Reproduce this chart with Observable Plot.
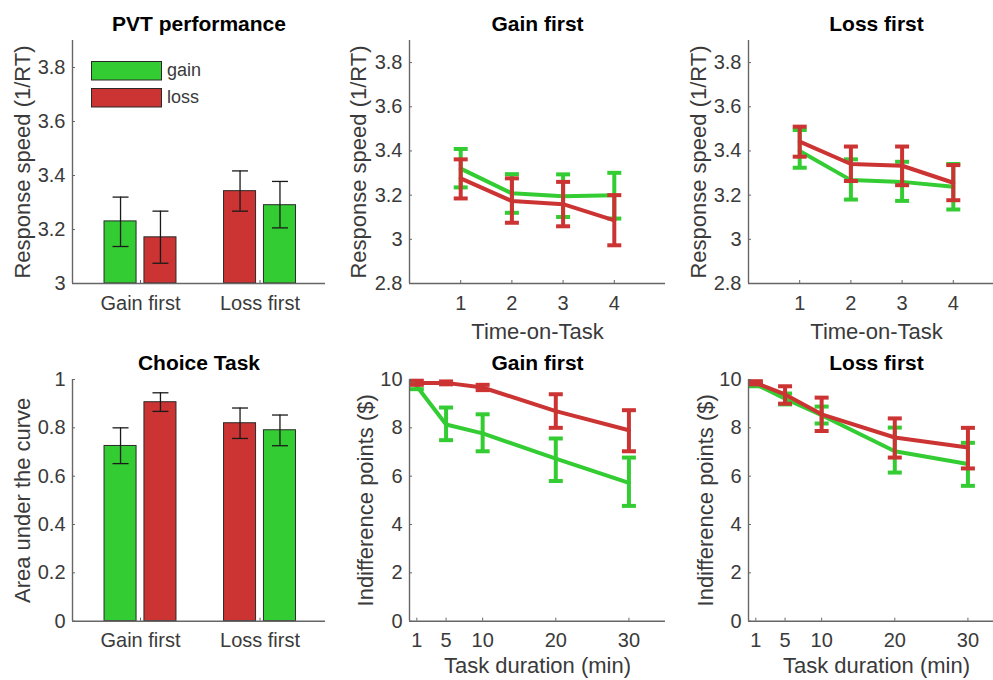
<!DOCTYPE html>
<html>
<head>
<meta charset="utf-8">
<script src="https://cdn.jsdelivr.net/npm/d3@7"></script>
<script src="https://cdn.jsdelivr.net/npm/@observablehq/plot@0.6"></script>
<style>
  body { margin: 0; background: #fff; }
  #chart { position: relative; width: 993px; height: 680px; overflow: hidden; background: #fff;
           font-family: "Liberation Sans", Arial, Helvetica, sans-serif; }
  #chart svg { position: absolute; overflow: visible; }
</style>
</head>
<body>
<div id="chart"></div>
<script>
// ---------- colours ----------
const GREEN = "#33cc33", RED = "#cc3333", AX = "#666666", TXT = "#3a3a3a";

// ---------- PVT performance (bars) ----------
const groups = ["Gain first", "Loss first"];
const pvtGain   = [3.230, 3.290];
const pvtGainLo = [3.137, 3.206];
const pvtGainHi = [3.320, 3.378];
const pvtLoss   = [3.171, 3.342];
const pvtLossLo = [3.075, 3.268];
const pvtLossHi = [3.268, 3.417];
const pvtTicks  = [3, 3.2, 3.4, 3.6, 3.8];

// ---------- Choice task (bars) ----------
const aucGain   = [0.725, 0.790];
const aucGainLo = [0.652, 0.726];
const aucGainHi = [0.800, 0.853];
const aucLoss   = [0.906, 0.819];
const aucLossLo = [0.868, 0.756];
const aucLossHi = [0.945, 0.882];
const aucTicks  = [0, 0.2, 0.4, 0.6, 0.8, 1];

// ---------- Time-on-task (response speed) ----------
const blocks = [1, 2, 3, 4];
const rtTicks = [2.8, 3, 3.2, 3.4, 3.6, 3.8];
const gfGain   = [3.320, 3.208, 3.195, 3.200];
const gfGainLo = [3.235, 3.120, 3.101, 3.094];
const gfGainHi = [3.409, 3.295, 3.294, 3.301];
const gfLoss   = [3.276, 3.173, 3.159, 3.086];
const gfLossLo = [3.185, 3.075, 3.059, 2.973];
const gfLossHi = [3.362, 3.276, 3.260, 3.200];
const lfGain   = [3.400, 3.268, 3.260, 3.238];
const lfGainLo = [3.324, 3.180, 3.174, 3.135];
const lfGainHi = [3.495, 3.362, 3.351, 3.341];
const lfLoss   = [3.442, 3.341, 3.333, 3.256];
const lfLossLo = [3.374, 3.264, 3.245, 3.177];
const lfLossHi = [3.510, 3.420, 3.420, 3.336];

// ---------- Indifference points ----------
const durations = [1, 5, 10, 20, 30];
const ipTicks = [0, 2, 4, 6, 8, 10];
const cgGain   = [9.72, 8.14, 7.77, 6.73, 5.72];
const cgGainLo = [9.60, 7.49, 7.03, 5.80, 4.77];
const cgGainHi = [9.85, 8.84, 8.56, 7.56, 6.77];
const cgLoss   = [9.86, 9.86, 9.67, 8.69, 7.90];
const cgLossLo = [9.78, 9.80, 9.56, 8.00, 7.03];
const cgLossHi = [9.95, 9.92, 9.78, 9.39, 8.73];
const clGain   = [9.80, 9.21, 8.52, 7.03, 6.50];
const clGainLo = [9.72, 8.97, 8.18, 6.15, 5.60];
const clGainHi = [9.90, 9.42, 8.88, 8.01, 7.38];
const clLoss   = [9.86, 9.38, 8.56, 7.60, 7.19];
const clLossLo = [9.80, 9.00, 7.87, 6.77, 6.32];
const clLossHi = [9.93, 9.72, 9.25, 8.39, 8.00];

// ---------- helpers ----------
const chart = document.getElementById("chart");
const FONT = '"Liberation Sans", Arial, Helvetica, sans-serif';
const hline = { draw(ctx, size) { const r = Math.sqrt(size / Math.PI); ctx.moveTo(-r, 0); ctx.lineTo(r, 0); } };

function panel({x0, x1, y0, y1, xDomain, yDomain, xTicks, xFormat, yTicks, title, ylabel, ylabelDx, xlabel, xlabelDy, marks}) {
  const ml = 80, mr = 10, mt = 45, mb = 70;
  const svg = Plot.plot({
    width: (x1 - x0) + ml + mr,
    height: (y1 - y0) + mt + mb,
    marginLeft: ml, marginRight: mr, marginTop: mt, marginBottom: mb,
    style: {fontFamily: FONT, fontSize: "20px", color: TXT, background: "transparent", overflow: "visible"},
    x: {domain: xDomain},
    y: {domain: yDomain},
    marks: [
      ...marks,
      Plot.ruleY([yDomain[0]], {stroke: AX, strokeWidth: 1.4}),
      Plot.ruleX([xDomain[0]], {stroke: AX, strokeWidth: 1.4}),
      Plot.axisX(xTicks, {tickSize: -3, tickPadding: 15, tickFormat: xFormat || (d => String(d)),
                          stroke: AX, fill: TXT, fontSize: 20, label: null}),
      Plot.axisY(yTicks, {tickSize: -3, tickPadding: 10, tickFormat: d => String(d),
                          stroke: AX, fill: TXT, fontSize: 20, label: null}),
      Plot.text([title], {text: d => d, frameAnchor: "top", dy: -16, lineAnchor: "middle",
                          fontWeight: "bold", fontSize: 21, fill: "#000"}),
      Plot.text([ylabel], {text: d => d, frameAnchor: "left", dx: -ylabelDx, rotate: -90,
                           textAnchor: "middle", lineAnchor: "middle", fontSize: 22, fill: TXT}),
      xlabel ? Plot.text([xlabel], {text: d => d, frameAnchor: "bottom", dy: xlabelDy, lineAnchor: "middle",
                                    fontSize: 22, fill: TXT}) : null
    ]
  });
  svg.style.left = (x0 - ml) + "px";
  svg.style.top = (y0 - mt) + "px";
  chart.appendChild(svg);
}

// grouped bars: in each group, the "first" condition is drawn on the left
const OFF = 0.167, HW = 0.134;
function barRows(gain, gainLo, gainHi, loss, lossLo, lossHi) {
  return groups.flatMap((g, i) => [
    {grp: i + 1, pos: i === 0 ? -1 : 1, cond: "gain", v: gain[i], lo: gainLo[i], hi: gainHi[i]},
    {grp: i + 1, pos: i === 0 ? 1 : -1, cond: "loss", v: loss[i], lo: lossLo[i], hi: lossHi[i]}
  ]);
}
function barMarks(rows, base) {
  const cx = d => d.grp + d.pos * OFF;
  return [
    Plot.rectY(rows, {x1: d => cx(d) - HW, x2: d => cx(d) + HW, y1: base, y2: "v",
                      fill: d => d.cond === "gain" ? GREEN : RED, stroke: "#2a2a2a", strokeWidth: 1}),
    Plot.ruleX(rows, {x: cx, y1: "lo", y2: "hi", stroke: "#1a1a1a", strokeWidth: 1.3}),
    Plot.dot(rows, {x: cx, y: "lo", symbol: hline, r: 8, stroke: "#1a1a1a", strokeWidth: 1.3, fill: "none"}),
    Plot.dot(rows, {x: cx, y: "hi", symbol: hline, r: 8, stroke: "#1a1a1a", strokeWidth: 1.3, fill: "none"})
  ];
}

function seriesRows(xs, v, lo, hi) { return xs.map((x, i) => ({x, v: v[i], lo: lo[i], hi: hi[i]})); }
function lineMarks(rows, color) {
  return [
    Plot.line(rows, {x: "x", y: "v", stroke: color, strokeWidth: 4, strokeLinejoin: "round"}),
    Plot.ruleX(rows, {x: "x", y1: "lo", y2: "hi", stroke: color, strokeWidth: 4}),
    Plot.dot(rows, {x: "x", y: "lo", symbol: hline, r: 7, stroke: color, strokeWidth: 4, fill: "none"}),
    Plot.dot(rows, {x: "x", y: "hi", symbol: hline, r: 7, stroke: color, strokeWidth: 4, fill: "none"})
  ];
}

const barX = [0.431, 2.548];

// Panel 1: PVT performance
panel({
  x0: 72, x1: 325, y0: 40, y1: 283, xDomain: barX, yDomain: [3, 3.9],
  xTicks: [1, 2], xFormat: d => groups[d - 1], yTicks: pvtTicks,
  title: "PVT performance", ylabel: "Response speed (1/RT)", ylabelDx: 50,
  marks: barMarks(barRows(pvtGain, pvtGainLo, pvtGainHi, pvtLoss, pvtLossLo, pvtLossHi), 3)
});

// Panel 2: Gain first (time on task)
panel({
  x0: 409, x1: 665, y0: 40, y1: 283, xDomain: [0, 5], yDomain: [2.8, 3.9],
  xTicks: blocks, yTicks: rtTicks,
  title: "Gain first", ylabel: "Response speed (1/RT)", ylabelDx: 51, xlabel: "Time-on-Task", xlabelDy: 48,
  marks: [...lineMarks(seriesRows(blocks, gfGain, gfGainLo, gfGainHi), GREEN),
          ...lineMarks(seriesRows(blocks, gfLoss, gfLossLo, gfLossHi), RED)]
});

// Panel 3: Loss first (time on task)
panel({
  x0: 748, x1: 1004, y0: 40, y1: 283, xDomain: [0, 5], yDomain: [2.8, 3.9],
  xTicks: blocks, yTicks: rtTicks,
  title: "Loss first", ylabel: "Response speed (1/RT)", ylabelDx: 50, xlabel: "Time-on-Task", xlabelDy: 48,
  marks: [...lineMarks(seriesRows(blocks, lfGain, lfGainLo, lfGainHi), GREEN),
          ...lineMarks(seriesRows(blocks, lfLoss, lfLossLo, lfLossHi), RED)]
});

// Panel 4: Choice Task
panel({
  x0: 72, x1: 325, y0: 379.3, y1: 621, xDomain: barX, yDomain: [0, 1],
  xTicks: [1, 2], xFormat: d => groups[d - 1], yTicks: aucTicks,
  title: "Choice Task", ylabel: "Area under the curve", ylabelDx: 50,
  marks: barMarks(barRows(aucGain, aucGainLo, aucGainHi, aucLoss, aucLossLo, aucLossHi), 0)
});

// Panel 5: Gain first (indifference points)
panel({
  x0: 409, x1: 665, y0: 379.3, y1: 621, xDomain: [0, 35], yDomain: [0, 10],
  xTicks: durations, yTicks: ipTicks,
  title: "Gain first", ylabel: "Indifference points ($)", ylabelDx: 44, xlabel: "Task duration (min)", xlabelDy: 45,
  marks: [...lineMarks(seriesRows(durations, cgGain, cgGainLo, cgGainHi), GREEN),
          ...lineMarks(seriesRows(durations, cgLoss, cgLossLo, cgLossHi), RED)]
});

// Panel 6: Loss first (indifference points)
panel({
  x0: 748, x1: 1004, y0: 379.3, y1: 621, xDomain: [0, 35], yDomain: [0, 10],
  xTicks: durations, yTicks: ipTicks,
  title: "Loss first", ylabel: "Indifference points ($)", ylabelDx: 43, xlabel: "Task duration (min)", xlabelDy: 45,
  marks: [...lineMarks(seriesRows(durations, clGain, clGainLo, clGainHi), GREEN),
          ...lineMarks(seriesRows(durations, clLoss, clLossLo, clLossHi), RED)]
});

// Legend (PVT panel)
const ns = "http://www.w3.org/2000/svg";
const leg = document.createElementNS(ns, "svg");
leg.setAttribute("width", 140); leg.setAttribute("height", 60);
leg.style.left = "88px"; leg.style.top = "58px";
[["gain", GREEN, 3], ["loss", RED, 30]].forEach(([label, color, y]) => {
  const r = document.createElementNS(ns, "rect");
  r.setAttribute("x", 3.5); r.setAttribute("y", y + 0.5); r.setAttribute("width", 70); r.setAttribute("height", 18.5);
  r.setAttribute("fill", color); r.setAttribute("stroke", "#2a2a2a"); r.setAttribute("stroke-width", 1);
  leg.appendChild(r);
  const t = document.createElementNS(ns, "text");
  t.setAttribute("x", 79); t.setAttribute("y", y + 15);
  t.setAttribute("font-family", FONT); t.setAttribute("font-size", 18); t.setAttribute("fill", TXT);
  t.textContent = label;
  leg.appendChild(t);
});
chart.appendChild(leg);
</script>
</body>
</html>
